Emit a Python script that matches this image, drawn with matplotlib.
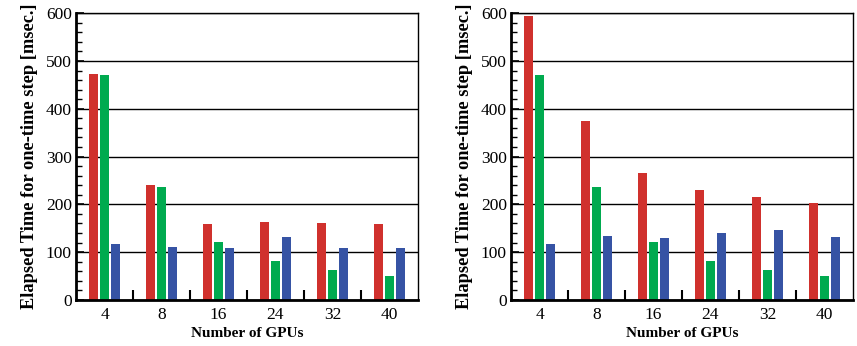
import matplotlib

matplotlib.use("Agg")
import matplotlib.pyplot as plt
import numpy as np
from matplotlib.ticker import MultipleLocator

GPUS = ["4", "8", "16", "24", "32", "40"]

# left panel
LEFT_RED = [473, 240, 158, 163, 161, 158]
LEFT_GREEN = [470, 236, 121, 81, 62, 50]
LEFT_BLUE = [117, 110, 108, 131, 108, 108]

# right panel
RIGHT_RED = [594, 374, 265, 230, 215, 202]
RIGHT_GREEN = [470, 236, 121, 81, 62, 50]
RIGHT_BLUE = [117, 133, 129, 140, 146, 131]

COLORS = ["#d0312d", "#00aa4f", "#3653a4"]
SERIF = ["Liberation Serif", "DejaVu Serif"]

plt.rcParams["font.family"] = SERIF


def draw(ax, series):
    x = np.arange(len(GPUS)) + 0.5
    w = 0.16
    pitch = 0.19
    for k, (vals, col) in enumerate(zip(series, COLORS)):
        ax.bar(x + (k - 1) * pitch, vals, width=w, color=col, zorder=2)

    ax.set_xlim(0, len(GPUS))
    ax.set_ylim(0, 600)
    ax.set_axisbelow(True)
    ax.yaxis.grid(True, which="major", color="black", linewidth=1.0)

    ax.yaxis.set_major_locator(MultipleLocator(100))
    ax.yaxis.set_minor_locator(MultipleLocator(20))
    ax.tick_params(axis="y", which="major", direction="in", length=6,
                   width=1.2, labelsize=12.5, pad=3)
    ax.tick_params(axis="y", which="minor", direction="in", length=4,
                   width=1.0)

    # group ticks at the boundaries, labels at the centres
    ax.set_xticks(np.arange(1, len(GPUS)))
    ax.set_xticklabels([])
    ax.set_xticks(x, minor=True)
    ax.set_xticklabels(GPUS, minor=True)
    ax.tick_params(axis="x", which="major", direction="in", length=7,
                   width=1.5)
    ax.tick_params(axis="x", which="minor", length=0, labelsize=12.5, pad=5)

    for s in ("left", "bottom"):
        ax.spines[s].set_linewidth(2.0)
    for s in ("top", "right"):
        ax.spines[s].set_linewidth(1.0)

    ax.set_xlabel("Number of GPUs", fontsize=11, fontweight="bold",
                  labelpad=3)
    ax.set_ylabel("Elapsed Time for one-time step [msec.]", fontsize=13.2,
                  fontweight="bold", labelpad=6)


fig = plt.figure(figsize=(8.57, 3.46), dpi=100)
ax1 = fig.add_axes([0.0887, 0.133, 0.399, 0.829])
ax2 = fig.add_axes([0.5963, 0.133, 0.399, 0.829])

draw(ax1, [LEFT_RED, LEFT_GREEN, LEFT_BLUE])
draw(ax2, [RIGHT_RED, RIGHT_GREEN, RIGHT_BLUE])

fig.savefig("out.png", dpi=100)
